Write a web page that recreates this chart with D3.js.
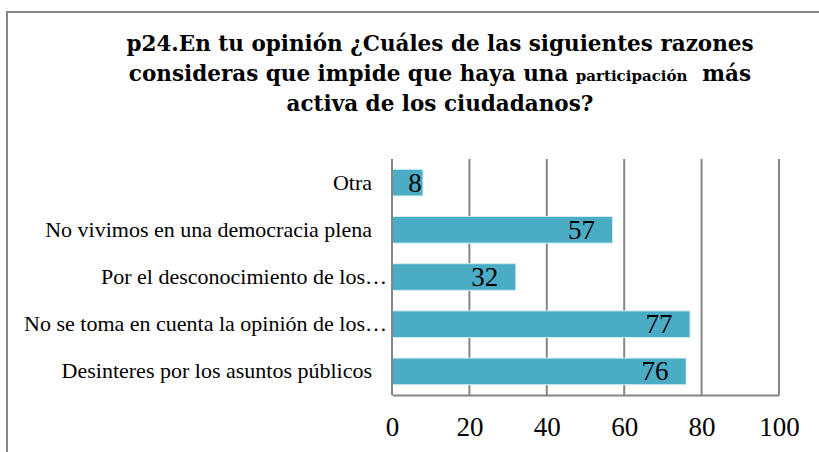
<!DOCTYPE html>
<html>
<head>
<meta charset="utf-8">
<script src="https://cdn.jsdelivr.net/npm/d3@7"></script>
<style>
  body { margin: 0; background: #fff; }
  svg { display: block; }
  .domain { stroke: #868686; stroke-width: 2; }
</style>
</head>
<body>
<div id="chart"></div>
<script>
// data
var categories = [
  "Otra",
  "No vivimos en una democracia plena",
  "Por el desconocimiento de los\u2026",
  "No se toma en cuenta la opinión de los\u2026",
  "Desinteres por los asuntos públicos"
];
var values = [8, 57, 32, 77, 76];
var x_ticks = [0, 20, 40, 60, 80, 100];

var width_chart  = 819;
var height_chart = 452;
var serif_font   = "'Liberation Serif', 'DejaVu Serif', serif";
var title_font   = "'DejaVu Serif', 'Liberation Serif', serif";

var svg_chart = d3.select("#chart").append("svg")
  .attr("width", width_chart)
  .attr("height", height_chart);

// outer chart border (runs off the right and bottom edges)
svg_chart.append("rect")
  .attr("x", 7).attr("y", 12)
  .attr("width", 840).attr("height", 480)
  .attr("fill", "#fff")
  .attr("stroke", "#878787")
  .attr("stroke-width", 2);

// title
var title_chart = svg_chart.append("text")
  .attr("text-anchor", "middle")
  .attr("font-family", title_font)
  .attr("font-weight", "bold")
  .attr("font-size", 21.5)
  .attr("fill", "#000");
title_chart.append("tspan").attr("x", 440).attr("y", 51)
  .text("p24.En tu opinión ¿Cuáles de las siguientes razones");
var line2_chart = title_chart.append("tspan").attr("x", 440).attr("y", 81);
line2_chart.append("tspan").text("consideras que impide que haya una ");
line2_chart.append("tspan").attr("font-size", 15).text("participación");
line2_chart.append("tspan").text("\u00a0 más");
title_chart.append("tspan").attr("x", 440).attr("y", 111)
  .text("activa de los ciudadanos?");

var x_chart = d3.scaleLinear()
  .domain([0, 100])
  .range([392, 779]);
var y_chart = d3.scaleBand()
  .domain(categories)
  .range([159, 395])
  .paddingInner(0.435)
  .paddingOuter(0.2175);

// vertical gridlines
svg_chart.append("g")
  .attr("class", "grid")
  .selectAll("line")
  .data(x_ticks.slice(1))
  .join("line")
  .attr("x1", function (d) { return x_chart(d); })
  .attr("x2", function (d) { return x_chart(d); })
  .attr("y1", 159)
  .attr("y2", 395)
  .attr("stroke", "#868686")
  .attr("stroke-width", 2);

// bars
svg_chart.append("g")
  .selectAll("rect")
  .data(values)
  .join("rect")
  .attr("x", x_chart(0))
  .attr("y", function (d, i) { return y_chart(categories[i]); })
  .attr("width", function (d) { return x_chart(d) - x_chart(0); })
  .attr("height", y_chart.bandwidth())
  .attr("fill", "#4BACC6")
  .attr("stroke", "#d6eef4")
  .attr("stroke-width", 1);

// data labels, inside end of the bar
svg_chart.append("g")
  .selectAll("text")
  .data(values)
  .join("text")
  .attr("x", function (d) { return Math.max(x_chart(d) - 31, x_chart(0) + 23); })
  .attr("y", function (d, i) { return y_chart(categories[i]) + y_chart.bandwidth()/2 + 9; })
  .attr("text-anchor", "middle")
  .attr("font-family", serif_font)
  .attr("font-size", 27)
  .attr("fill", "#000")
  .text(function (d) { return d; });

// category labels
svg_chart.append("g")
  .selectAll("text")
  .data(categories)
  .join("text")
  .attr("x", function (d) { return x_chart(0) - (d.slice(-1) === "\u2026" ? 5 : 20); })
  .attr("y", function (d) { return y_chart(d) + y_chart.bandwidth()/2 + 7; })
  .attr("text-anchor", "end")
  .attr("font-family", serif_font)
  .attr("font-size", 22)
  .attr("fill", "#000")
  .text(function (d) { return d; });

// x axis
var axis_chart = svg_chart.append("g")
  .attr("transform", "translate(0,395)")
  .call(d3.axisBottom(x_chart).tickValues(x_ticks).tickSize(0).tickPadding(22));
axis_chart.selectAll("text")
  .attr("font-family", serif_font)
  .attr("font-size", 27)
  .attr("fill", "#000");

// y axis line
svg_chart.append("line")
  .attr("x1", x_chart(0)).attr("x2", x_chart(0))
  .attr("y1", 159).attr("y2", 395)
  .attr("stroke", "#868686")
  .attr("stroke-width", 2);
</script>
</body>
</html>
